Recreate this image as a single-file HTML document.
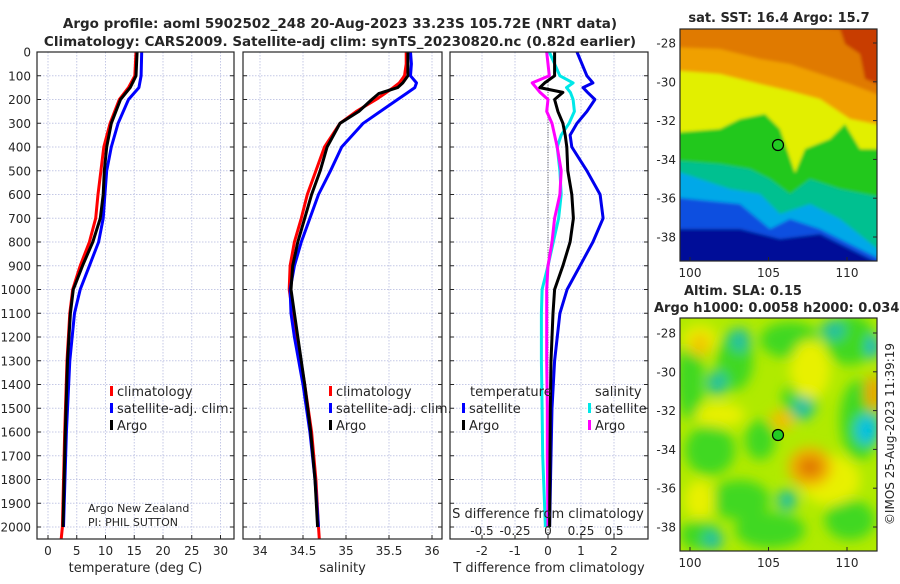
<!DOCTYPE html>
<html><head><meta charset="utf-8"><style>
body{margin:0;background:#fff;width:900px;height:580px;overflow:hidden;font-family:"DejaVu Sans","Liberation Sans",sans-serif}
svg text{font-family:"DejaVu Sans","Liberation Sans",sans-serif;fill:#262626}
</style></head><body>
<svg id="fig" width="900" height="580" xmlns="http://www.w3.org/2000/svg">
<defs>
<clipPath id="c1"><rect x="37" y="52" width="197" height="487"/></clipPath>
<clipPath id="c2"><rect x="243" y="52" width="199" height="487"/></clipPath>
<clipPath id="c3"><rect x="450" y="52" width="198" height="487"/></clipPath>
<clipPath id="cm1"><rect x="680" y="29" width="197" height="232"/></clipPath>
<clipPath id="cm2"><rect x="680" y="318" width="197" height="233"/></clipPath>
<filter id="bl" x="-20%" y="-20%" width="140%" height="140%"><feGaussianBlur stdDeviation="1.5"/></filter>
<filter id="bl2" x="-20%" y="-20%" width="140%" height="140%"><feGaussianBlur stdDeviation="6"/></filter>
</defs>
<text x="340" y="28" font-size="13.5" font-weight="bold" text-anchor="middle">Argo profile: aoml 5902502_248 20-Aug-2023 33.23S 105.72E (NRT data)</text>
<text x="340" y="46" font-size="13.5" font-weight="bold" text-anchor="middle">Climatology: CARS2009. Satellite-adj clim: synTS_20230820.nc (0.82d earlier)</text>
<g id="grids"></g>
<g id="lines"></g>
<g id="frames"></g>
<g id="maps"></g>
</svg>
<script>
// ---- data ----
const depthT = [0,100,150,200,300,400,500,600,700,800,900,1000,1100,1300,1600,2000];
const tempClim = [15.3,15.1,14.0,12.4,10.8,9.7,9.2,8.7,8.3,7.2,5.6,4.3,3.8,3.3,2.9,2.5];
const tempSat  = [16.3,16.2,15.8,14.0,12.2,11.0,10.2,9.9,9.6,8.8,7.2,5.6,4.6,3.8,3.2,2.7];
const tempArgo = [15.5,15.3,14.3,12.6,11.0,10.2,9.8,9.6,9.1,7.8,6.0,4.4,3.9,3.4,3.0,2.6];
const depthS = [0,50,100,130,150,175,200,250,300,400,500,600,700,800,900,1000,1100,1200,1400,1600,1800,2000];
const salClim = [35.70,35.70,35.68,35.62,35.55,35.45,35.35,35.12,34.93,34.75,34.65,34.55,34.48,34.40,34.35,34.34,34.38,34.43,34.52,34.60,34.65,34.68];
const salSat  = [35.75,35.76,35.75,35.82,35.80,35.70,35.60,35.40,35.20,34.95,34.82,34.68,34.58,34.48,34.40,34.35,34.36,34.40,34.50,34.58,34.64,34.68];
const salArgo = [35.72,35.72,35.72,35.66,35.60,35.38,35.30,35.15,34.93,34.78,34.70,34.60,34.52,34.44,34.38,34.36,34.40,34.44,34.52,34.59,34.64,34.67];
const depthD = [0,100,130,150,170,200,250,300,350,400,500,600,700,800,900,1000,1100,1300,1500,1700,2000];
const tDiffSat  = [0.88,1.18,1.36,1.06,1.2,1.42,1.18,0.88,0.67,0.72,1.18,1.58,1.67,1.36,0.97,0.58,0.36,0.2,0.12,0.09,0.05];
const tDiffArgo = [0.2,0.2,-0.1,-0.25,0.45,0.2,0.3,0.45,0.52,0.57,0.6,0.72,0.77,0.67,0.45,0.2,0.15,0.09,0.07,0.06,0.05];
const sDiffSat  = [0.01,0.09,0.19,0.14,0.17,0.19,0.2,0.16,0.10,0.07,0.09,0.10,0.08,0.04,0.0,-0.045,-0.05,-0.05,-0.045,-0.04,-0.02];
const sDiffArgo = [-0.01,0.01,-0.12,-0.09,-0.06,0.0,-0.01,0.03,0.05,0.07,0.10,0.09,0.05,0.03,0.0,-0.01,-0.01,-0.01,-0.005,-0.005,0.0];
const tTicks = [0,5,10,15,20,25,30];
const sTicks = [34,34.5,35,35.5,36];
const dTicks = [-2,-1,0,1,2];
const sdTicks = [-0.5,-0.25,0,0.25,0.5];
const sdLabels = ["-0.5","-0.25","0","0.25","0.5"];
const depthTicks = [0,100,200,300,400,500,600,700,800,900,1000,1100,1200,1300,1400,1500,1600,1700,1800,1900,2000];

// ---- scales ----
const NS='http://www.w3.org/2000/svg';
const yD = d => 52 + d*0.2375;
const xT = v => 48 + v*5.75;
const xS = v => 260 + (v-34)*86;
const xTD = v => 548 + v*33;
const xSD = v => 548 + v*132;
function mk(tag, attrs, parent){const e=document.createElementNS(NS,tag);for(const k in attrs)e.setAttribute(k,attrs[k]);parent.appendChild(e);return e;}
const grids=document.getElementById('grids'), lines=document.getElementById('lines'), frames=document.getElementById('frames');
const panels=[{x0:37,x1:234,ticks:tTicks,f:xT,lab:tTicks.map(String),xl:'temperature (deg C)'},
  {x0:243,x1:442,ticks:sTicks,f:xS,lab:sTicks.map(String),xl:'salinity'},
  {x0:450,x1:648,ticks:dTicks,f:xTD,lab:dTicks.map(String),xl:'T difference from climatology'}];
panels.forEach((p,i)=>{
  depthTicks.forEach(d=>{
    const l=mk('line',{x1:p.x0,x2:p.x1,y1:yD(d),y2:yD(d),stroke:'#c4c8e6','stroke-width':1,'stroke-dasharray':'1.5,1.5'},grids);
    
    
    const t1=mk('line',{x1:p.x0,x2:p.x0+4,y1:yD(d),y2:yD(d),stroke:'#262626'},frames);
    
    
    const t2=mk('line',{x1:p.x1-4,x2:p.x1,y1:yD(d),y2:yD(d),stroke:'#262626'},frames);
    
    
  });
  p.ticks.forEach((v,j)=>{
    const x=p.f(v);
    const l=mk('line',{x1:x,x2:x,y1:52,y2:539,stroke:'#c4c8e6','stroke-width':1,'stroke-dasharray':'1.5,1.5'},grids);
    
    
    const tk=mk('line',{x1:x,x2:x,y1:535,y2:539,stroke:'#262626'},frames);
    
    
    const t=mk('text',{x:x,y:555,'font-size':12,'text-anchor':'middle'},frames);t.textContent=p.lab[j];
    
    
  });
  const r=mk('rect',{x:p.x0,y:52,width:p.x1-p.x0,height:487,fill:'none',stroke:'#262626','stroke-width':1.2},frames);
  
  
  const xl=mk('text',{x:(p.x0+p.x1)/2,y:572,'font-size':13,'text-anchor':'middle'},frames);xl.textContent=p.xl;
  
  
});
depthTicks.forEach(d=>{
  const t=mk('text',{x:31,y:yD(d)+4.5,'font-size':12,'text-anchor':'end'},frames);t.textContent=d;
  
  
});
const z=mk('line',{x1:548,x2:548,y1:52,y2:539,stroke:'#555','stroke-dasharray':'1,1.5'},grids);


sdTicks.forEach((v,j)=>{
  const t=mk('text',{x:xSD(v),y:535,'font-size':12,'text-anchor':'middle'},frames);t.textContent=sdLabels[j];
  
  
});
const sdt=mk('text',{x:548,y:518,'font-size':13,'text-anchor':'middle'},frames);sdt.textContent='S difference from climatology';



function plot(ds,vs,f,color,clip,name,w){
  const pts=ds.map((d,i)=>f(vs[i]).toFixed(1)+','+yD(d).toFixed(1)).join(' ');
  const p=mk('polyline',{points:pts,fill:'none',stroke:color,'stroke-width':w||3,'stroke-linejoin':'round','clip-path':'url(#'+clip+')'},lines);
  
  
}
plot(depthT.concat([2050]),tempClim.concat([2.3]),xT,'#ff0000','c1','temp-climatology-line');
plot(depthT,tempSat,xT,'#0000ff','c1','temp-satellite-line');
plot(depthT,tempArgo,xT,'#000000','c1','temp-argo-line');
plot(depthS.concat([2050]),salClim.concat([34.69]),xS,'#ff0000','c2','sal-climatology-line');
plot(depthS,salSat,xS,'#0000ff','c2','sal-satellite-line');
plot(depthS,salArgo,xS,'#000000','c2','sal-argo-line');
plot(depthD,sDiffSat,xSD,'#00e8e8','c3','sdiff-satellite-line');
plot(depthD,tDiffSat,xTD,'#0000ee','c3','tdiff-satellite-line');
plot(depthD,sDiffArgo,xSD,'#ff00ff','c3','sdiff-argo-line');
plot(depthD,tDiffArgo,xTD,'#000000','c3','tdiff-argo-line');

function legend(x,y,color,label,name){
  const b=mk('rect',{x:x,y:y-10,width:3,height:10,fill:color},frames);
  
  
  const t=mk('text',{x:x+7,y:y,'font-size':13},frames);t.textContent=label;
  
  
}
[[110,'p1'],[329,'p2']].forEach(([x,n])=>{
  legend(x,396,'#ff0000','climatology',n+'-legend-climatology');
  legend(x,413,'#0000ff','satellite-adj. clim.',n+'-legend-satellite');
  legend(x,430,'#000000','Argo',n+'-legend-argo');
});
const lt=mk('text',{x:470,y:396,'font-size':13},frames);lt.textContent='temperature';


legend(462,413,'#0000ff','satellite','legend-temp-satellite');
legend(462,430,'#000000','Argo','legend-temp-argo');
const ls=mk('text',{x:595,y:396,'font-size':13},frames);ls.textContent='salinity';


legend(588,413,'#00e8e8','satellite','legend-sal-satellite');
legend(588,430,'#ff00ff','Argo','legend-sal-argo');
const a1=mk('text',{x:88,y:512,'font-size':11},frames);a1.textContent='Argo New Zealand';


const a2=mk('text',{x:88,y:526,'font-size':11},frames);a2.textContent='PI: PHIL SUTTON';


</script>
<script>
(function(){
const NS='http://www.w3.org/2000/svg';
const maps=document.getElementById('maps');
function mk(tag,a,p){const e=document.createElementNS(NS,tag);for(const k in a)e.setAttribute(k,a[k]);p.appendChild(e);return e;}
const m1=mk('g',{'clip-path':'url(#cm1)'},maps);


const inner=mk('g',{filter:'url(#bl)'},m1);
const L=(pts)=>pts.map(p=>(680+p[0])+','+(29+p[1])).join(' ');
const top=[[0,-10],[197,-10]];
mk('rect',{x:670,y:20,width:220,height:250,fill:'#000c98'},inner);
const bands=[
 ['#1050e0',[[197,240],[140,205],[100,210],[60,200],[0,200]]],
 ['#00a8e8',[[197,235],[140,200],[110,190],[90,200],[60,175],[0,168]]],
 ['#00c090',[[197,230],[160,190],[130,175],[100,185],[80,165],[50,160],[0,140]]],
 ['#22c81e',[[197,170],[160,160],[130,150],[110,165],[90,150],[70,140],[40,135],[0,131]]],
 ['#e2ef00',[[197,120],[180,120],[165,95],[150,110],[125,120],[115,144],[100,100],[85,85],[60,90],[40,100],[0,104]]],
 ['#f0a000',[[197,98],[170,90],[140,70],[110,62],[80,55],[40,45],[0,41]]],
 ['#e07a00',[[197,70],[170,55],[140,45],[110,35],[80,30],[40,20],[0,18]]],
 ['#c83c00',[[197,60],[185,50],[180,25],[165,15],[160,0]]]
];
bands.forEach(b=>mk('polygon',{points:L(top.concat(b[1].map(p=>[p[0]===197?210:(p[0]===0?-10:p[0]),p[1]]))),fill:b[0]},inner));
mk('rect',{x:680,y:29,width:197,height:232,fill:'none',stroke:'#262626','stroke-width':1.2},maps);
const m2=mk('g',{'clip-path':'url(#cm2)'},maps);


mk('rect',{x:680,y:318,width:197,height:233,fill:'#b0ea00'},m2);
const g=mk('g',{filter:'url(#bl2)'},m2);
[[690,380,14,40,'#40d820'],[735,360,18,30,'#40d820'],[790,340,30,18,'#40d820'],[850,340,25,25,'#40d820'],[710,450,25,25,'#40d820'],[740,500,30,20,'#40d820'],[800,400,18,20,'#40d820'],[860,420,20,40,'#40d820'],[770,530,35,18,'#40d820'],[850,520,25,20,'#40d820'],[700,535,20,15,'#40d820'],[760,440,15,20,'#40d820']].forEach(b=>mk('ellipse',{cx:b[0],cy:b[1],rx:b[2],ry:b[3],fill:b[4]},g));
[[700,340,18,15,'#e8f000'],[810,370,20,30,'#e8f000'],[720,415,25,12,'#e8f000'],[830,480,30,25,'#e8f000'],[700,500,15,20,'#e8f000']].forEach(b=>mk('ellipse',{cx:b[0],cy:b[1],rx:b[2],ry:b[3],fill:b[4]},g));
[[810,467,22,20,'#f0b000'],[810,467,12,10,'#e07800'],[873,393,8,18,'#f0a000'],[782,420,12,10,'#f0c000'],[700,345,10,12,'#f0c800']].forEach(b=>mk('ellipse',{cx:b[0],cy:b[1],rx:b[2],ry:b[3],fill:b[4]},g));
[[740,340,10,12,'#20c0a0'],[717,383,10,12,'#20c0a0'],[803,408,10,12,'#20c0a0'],[867,430,12,15,'#00c0e0'],[787,500,10,10,'#20c0a0'],[713,540,10,10,'#20c0a0'],[833,330,12,10,'#20c0a0'],[873,347,6,12,'#00b0d0']].forEach(b=>mk('ellipse',{cx:b[0],cy:b[1],rx:b[2],ry:b[3],fill:b[4]},g));
mk('rect',{x:680,y:318,width:197,height:233,fill:'none',stroke:'#262626','stroke-width':1.2},maps);
[[778,145],[778,435]].forEach(c=>{const e=mk('circle',{cx:c[0],cy:c[1],r:5.5,fill:'#22cc22',stroke:'#000','stroke-width':1.2},maps);

});
const lonX=v=>690+(v-100)*15.7;
[100,105,110].forEach(v=>{[[261,272],[551,562]].forEach(([yb,yt])=>{
  mk('line',{x1:lonX(v),x2:lonX(v),y1:yb-4,y2:yb,stroke:'#262626'},maps);
  const t=mk('text',{x:lonX(v),y:yt+5,'font-size':12,'text-anchor':'middle'},maps);t.textContent=v;
  
  });});
[-28,-30,-32,-34,-36,-38].forEach(v=>{[43,333].forEach(y0=>{
  const y=y0+(-28-v)*19.4;
  mk('line',{x1:873,x2:877,y1:y,y2:y,stroke:'#262626'},maps);
  const t=mk('text',{x:676,y:y+4.5,'font-size':12,'text-anchor':'end'},maps);t.textContent=v;
  
  });});
const t1=mk('text',{x:779,y:22,'font-size':13,'font-weight':'bold','text-anchor':'middle'},maps);t1.textContent='sat. SST: 16.4 Argo: 15.7';


const t2=mk('text',{x:684,y:295,'font-size':13,'font-weight':'bold'},maps);t2.textContent='Altim. SLA: 0.15';


const t3=mk('text',{x:654,y:312,'font-size':13,'font-weight':'bold'},maps);t3.textContent='Argo h1000: 0.0058 h2000: 0.034';


const t4=mk('text',{x:894,y:434,'font-size':12,'text-anchor':'middle',transform:'rotate(-90 894 434)'},maps);t4.textContent='©IMOS 25-Aug-2023 11:39:19';


})();
</script>
</body></html>
